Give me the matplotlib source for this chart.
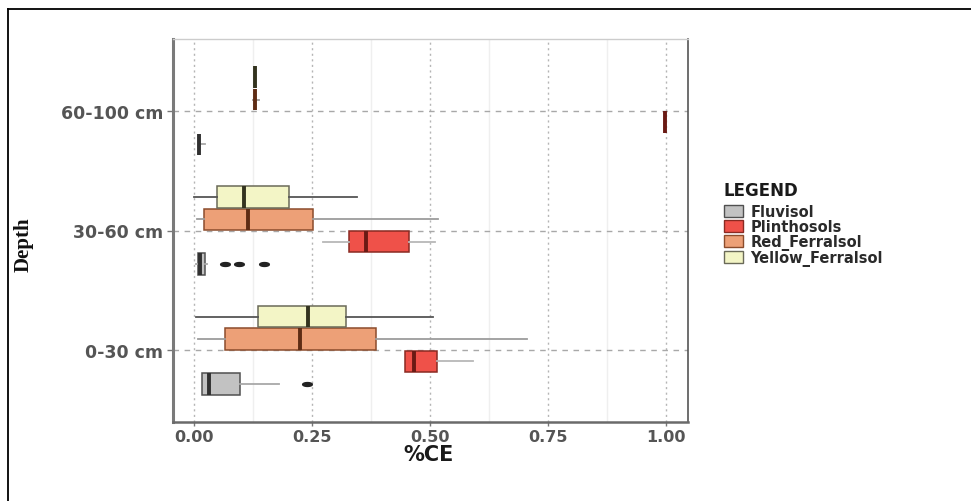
import numpy as np
import matplotlib
matplotlib.use("Agg")
import matplotlib.pyplot as plt
from matplotlib.patches import Patch
from matplotlib.lines import Line2D
from matplotlib.path import Path
from matplotlib.ticker import MultipleLocator

# ---------------- data ----------------
depths = ['0-30 cm', '30-60 cm', '60-100 cm']
soils = ['Fluvisol', 'Plinthosols', 'Red_Ferralsol', 'Yellow_Ferralsol']

# five-number summaries per depth: (whislo, q1, med, q3, whishi)
fluvisol_stats = [(0.016, 0.016, 0.032, 0.098, 0.179),
                  (0.004, 0.007, 0.012, 0.023, 0.028),
                  (0.011, 0.011, 0.011, 0.011, 0.022)]
fluvisol_out = [[0.239], [0.066, 0.094, 0.147], []]

plinthosols_stats = [(0.446, 0.446, 0.465, 0.514, 0.592),
                     (0.272, 0.328, 0.364, 0.456, 0.511),
                     (0.999, 0.999, 0.999, 0.999, 0.999)]
plinthosols_out = [[], [], []]

red_ferralsol_stats = [(0.007, 0.066, 0.225, 0.385, 0.705),
                       (0.005, 0.021, 0.113, 0.251, 0.517),
                       (0.124, 0.129, 0.129, 0.129, 0.138)]
red_ferralsol_out = [[], [], []]

yellow_ferralsol_stats = [(0.004, 0.136, 0.242, 0.321, 0.506),
                          (0.000, 0.048, 0.106, 0.201, 0.345),
                          (0.129, 0.129, 0.129, 0.129, 0.129)]
yellow_ferralsol_out = [[], [], []]

x_ticks = [0.00, 0.25, 0.50, 0.75, 1.00]
x_tick_labels = ['0.00', '0.25', '0.50', '0.75', '1.00']

# ---------------- styles ----------------
fills = {'Fluvisol': '#c2c2c2', 'Plinthosols': '#ef5149',
         'Red_Ferralsol': '#eda077', 'Yellow_Ferralsol': '#f3f5c6'}
edges = {'Fluvisol': '#505050', 'Plinthosols': '#8a2a22',
         'Red_Ferralsol': '#8c4c2c', 'Yellow_Ferralsol': '#6a6a58'}
meds = {'Fluvisol': '#303030', 'Plinthosols': '#6a1a14',
        'Red_Ferralsol': '#5e2c14', 'Yellow_Ferralsol': '#33331f'}
whisk = {'Fluvisol': '#a8a8a8', 'Plinthosols': '#b8b8b8',
         'Red_Ferralsol': '#9c9c9c', 'Yellow_Ferralsol': '#555555'}
offsets = [-0.28125, -0.09375, 0.09375, 0.28125]

all_stats = [fluvisol_stats, plinthosols_stats, red_ferralsol_stats, yellow_ferralsol_stats]
all_out = [fluvisol_out, plinthosols_out, red_ferralsol_out, yellow_ferralsol_out]

th = np.linspace(0, 2 * np.pi, 40)
dash_marker = Path(np.column_stack([np.cos(th), 0.4 * np.sin(th)]))

fig = plt.figure(figsize=(9.71, 5.02), dpi=100)
ax = fig.add_axes([173 / 971, 1 - 423 / 502, (688 - 173) / 971, (423 - 40) / 502])

cat_pos = np.arange(1, len(depths) + 1)
for si, soil in enumerate(soils):
    bstats = []
    for di in range(len(depths)):
        wl, q1, med, q3, wh = all_stats[si][di]
        bstats.append(dict(whislo=wl, q1=q1, med=med, q3=q3, whishi=wh,
                           fliers=all_out[si][di]))
    ax.bxp(bstats, positions=cat_pos + offsets[si], widths=0.18,
           orientation='horizontal', patch_artist=True, showcaps=False,
           boxprops=dict(facecolor=fills[soil], edgecolor=edges[soil], linewidth=1.1),
           medianprops=dict(color=meds[soil], linewidth=2.8),
           whiskerprops=dict(color=whisk[soil], linewidth=1.3),
           flierprops=dict(marker=dash_marker, markersize=7, markerfacecolor='#222222',
                           markeredgecolor='#222222', linestyle='none'),
           manage_ticks=False, zorder=3)

ax.set_xlim(-0.045, 1.047)
ax.set_ylim(0.4, 3.6)
ax.set_xticks(x_ticks)
ax.set_xticklabels(x_tick_labels)
ax.xaxis.set_minor_locator(MultipleLocator(0.125))
ax.set_yticks(cat_pos)
ax.set_yticklabels(depths)

ax.set_axisbelow(True)
ax.grid(axis='x', which='major', linestyle=(0, (1.5, 2.5)), color='#b5b5b5', linewidth=1.0)
ax.grid(axis='x', which='minor', linestyle='-', color='#efefef', linewidth=1.0)
ax.grid(axis='y', which='major', linestyle=(0, (4, 4)), color='#a8a8a8', linewidth=1.0)
ax.tick_params(axis='x', which='minor', length=0)

for lab in ax.get_xticklabels() + ax.get_yticklabels():
    lab.set_fontweight('bold')
    lab.set_color('#555555')
for lab in ax.get_xticklabels():
    lab.set_fontsize(11.5)
for lab in ax.get_yticklabels():
    lab.set_fontsize(12.5)
ax.tick_params(axis='y', which='major', length=4, width=1, color='#777777', pad=3)
ax.tick_params(axis='x', which='major', length=3, width=1, color='#777777', pad=2)

ax.spines['left'].set_color('#7a7a7a')
ax.spines['left'].set_linewidth(2.2)
ax.spines['bottom'].set_color('#6a6a6a')
ax.spines['bottom'].set_linewidth(1.8)
ax.spines['right'].set_color('#555555')
ax.spines['right'].set_linewidth(1.2)
ax.spines['top'].set_color('#cccccc')
ax.spines['top'].set_linewidth(1.0)

ax.set_xlabel('%CE', fontsize=15, fontweight='bold', color='#1a1a1a', va='center')
ax.xaxis.set_label_coords(0.497, -32 / 383)
fig.text(24 / 971, 1 - 245 / 502, 'Depth', rotation=90, ha='center', va='center',
         fontsize=15, fontweight='bold', family='Liberation Serif', color='#111111')

# legend: title as its own text, entries below
fig.text(723 / 971, 1 - 191 / 502, 'LEGEND', ha='left', va='center',
         fontsize=12, fontweight='bold', color='#1a1a1a')
handles = [Patch(facecolor=fills[s], edgecolor=edges[s], linewidth=1.0) for s in soils]
leg = fig.legend(handles, soils, loc='upper left', bbox_to_anchor=(724 / 971, 1 - 205 / 502),
                 frameon=False, prop=dict(weight='bold', size=10.5), borderpad=0,
                 borderaxespad=0, labelspacing=0.0, handlelength=1.3, handleheight=0.8,
                 handletextpad=0.5)
for t in leg.get_texts():
    t.set_color('#2a2a2a')

# outer frame (left and top edges visible)
fig.add_artist(Line2D([8 / 971, 8 / 971], [0, 1 - 10 / 502], color='black', linewidth=1.3,
                      transform=fig.transFigure))
fig.add_artist(Line2D([8 / 971, 1], [1 - 10 / 502, 1 - 10 / 502], color='black', linewidth=1.3,
                      transform=fig.transFigure))

fig.savefig('out.png', dpi=100)
